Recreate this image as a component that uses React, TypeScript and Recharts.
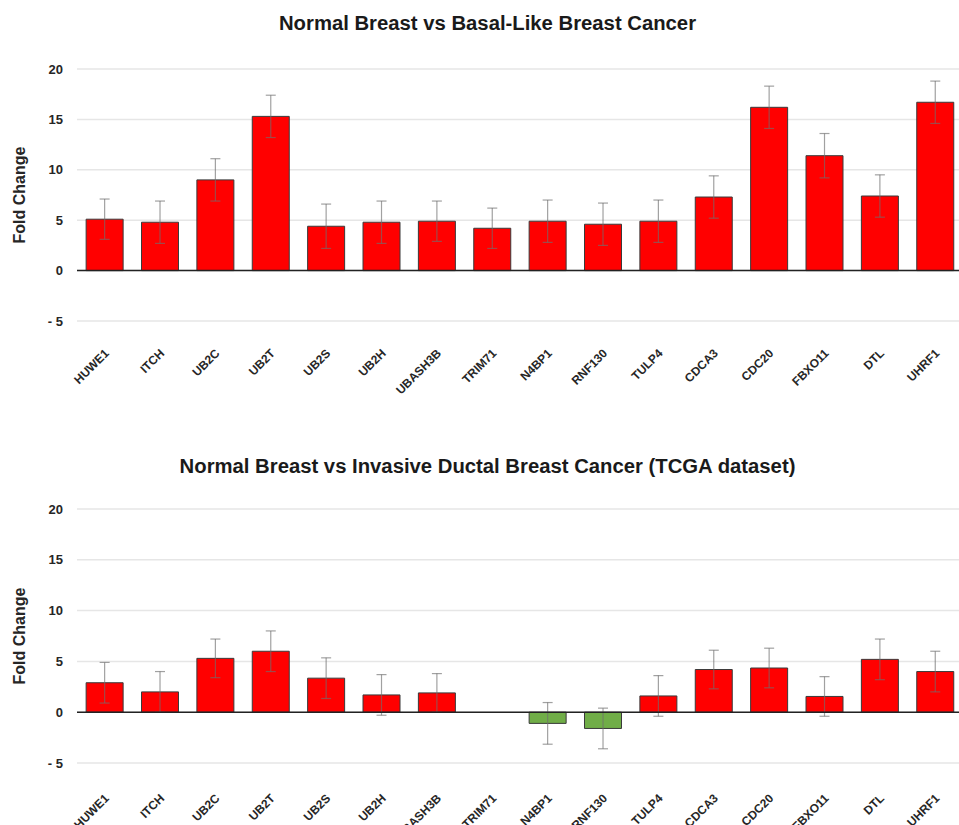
import React from 'react';
import {
  BarChart,
  Bar,
  XAxis,
  YAxis,
  CartesianGrid,
  ReferenceLine,
  ErrorBar,
  Cell,
} from 'recharts';

// Gene categories shared by both panels
const genes = [
  'HUWE1', 'ITCH', 'UB2C', 'UB2T', 'UB2S', 'UB2H', 'UBASH3B', 'TRIM71',
  'N4BP1', 'RNF130', 'TULP4', 'CDCA3', 'CDC20', 'FBXO11', 'DTL', 'UHRF1',
];

// Normal breast vs basal-like breast cancer
const basalFold = [5.1, 4.8, 9.0, 15.3, 4.4, 4.8, 4.9, 4.2, 4.9, 4.6, 4.9, 7.3, 16.2, 11.4, 7.4, 16.7];
const basalErr = [2.0, 2.1, 2.1, 2.1, 2.2, 2.1, 2.0, 2.0, 2.1, 2.1, 2.1, 2.1, 2.1, 2.2, 2.1, 2.1];

// Normal breast vs invasive ductal breast cancer (TCGA)
const ductalFold = [2.9, 2.0, 5.3, 6.0, 3.35, 1.7, 1.9, 0, -1.1, -1.6, 1.6, 4.2, 4.35, 1.55, 5.2, 4.0];
const ductalErr = [2.0, 2.0, 1.9, 2.0, 2.0, 2.0, 1.9, 0, 2.05, 2.0, 2.0, 1.9, 1.95, 1.95, 2.0, 2.0];

const yTicks = [-5, 0, 5, 10, 15, 20];

const titles = [
  'Normal Breast vs Basal-Like Breast Cancer',
  'Normal Breast vs Invasive Ductal Breast Cancer (TCGA dataset)',
];

const FONT = "Arial, 'Liberation Sans', Helvetica, sans-serif";
const UP = '#ff0000';
const DOWN = '#70ad47';

type Row = { gene: string; value: number; err: number };

const toRows = (vals: number[], errs: number[]): Row[] =>
  genes.map((gene, i) => ({ gene, value: vals[i], err: errs[i] }));

const basalRows = toRows(basalFold, basalErr);
const ductalRows = toRows(ductalFold, ductalErr);

const makeTick = (dy: number) => (props: any) => {
  const { x, y, payload } = props;
  return (
    <text
      transform={`translate(${x + 5},${y + dy}) rotate(-45)`}
      textAnchor="end"
      fontFamily={FONT}
      fontSize={12}
      fontWeight="bold"
      fill="#262626"
    >
      {payload.value}
    </text>
  );
};

const yLabel = (props: any) => {
  const vb = props.viewBox || {};
  const cx = 19;
  const cy = (vb.y ?? 0) + (vb.height ?? 0) / 2;
  return (
    <text
      x={cx}
      y={cy}
      transform={`rotate(-90, ${cx}, ${cy})`}
      textAnchor="middle"
      dominantBaseline="central"
      fontFamily={FONT}
      fontSize={16}
      fontWeight="bold"
      fill="#262626"
    >
      Fold Change
    </text>
  );
};

type PanelProps = {
  title: string;
  rows: Row[];
  top: number;
  height: number;
  plotTop: number;
  plotHeight: number;
  titleBaseline: number;
  labelDy: number;
};

function Panel({ title, rows, top, height, plotTop, plotHeight, titleBaseline, labelDy }: PanelProps) {
  const xAxisHeight = height - plotTop - plotHeight;
  return (
    <div style={{ position: 'absolute', left: 0, top, width: 963, height }}>
      <div
        style={{
          position: 'absolute',
          left: 0,
          width: 975,
          top: titleBaseline - 18,
          textAlign: 'center',
          fontFamily: FONT,
          fontWeight: 'bold',
          fontSize: 20.3,
          lineHeight: 'normal',
          color: '#1a1a1a',
          whiteSpace: 'nowrap',
        }}
      >
        {title}
      </div>
      <BarChart
        width={963}
        height={height}
        data={rows}
        margin={{ top: plotTop, right: 0, bottom: 0, left: 0 }}
        barCategoryGap="16.5%"
      >
        <CartesianGrid vertical={false} stroke="#e6e6e6" strokeWidth={1.5} />
        <XAxis
          dataKey="gene"
          height={xAxisHeight}
          axisLine={false}
          tickLine={false}
          tickSize={0}
          tickMargin={0}
          interval={0}
          tick={makeTick(labelDy)}
        />
        <YAxis
          width={77}
          domain={[-5, 20]}
          ticks={yTicks}
          allowDataOverflow
          axisLine={false}
          tickLine={false}
          tickSize={0}
          tickMargin={14}
          tickFormatter={(v: number) => (v < 0 ? `- ${Math.abs(v)}` : `${v}`)}
          tick={{ fontFamily: FONT, fontSize: 13, fontWeight: 'bold', fill: '#262626' }}
          label={{ content: yLabel }}
        />
        <Bar dataKey="value" stroke="#3a3a3a" strokeWidth={1} isAnimationActive={false}>
          {rows.map((r, i) => (
            <Cell key={i} fill={r.value < 0 ? DOWN : UP} />
          ))}
          <ErrorBar
            dataKey="err"
            direction="y"
            width={5}
            stroke="#6f6f6f"
            strokeOpacity={0.65}
            strokeWidth={1.2}
            isAnimationActive={false}
          />
        </Bar>
        <ReferenceLine y={0} stroke="#222" strokeWidth={1.5} />
      </BarChart>
    </div>
  );
}

export default function App() {
  return (
    <div
      style={{
        position: 'absolute',
        left: 0,
        top: 0,
        width: 959,
        height: 825,
        overflow: 'hidden',
        background: '#fff',
      }}
    >
      <Panel
        title={titles[0]}
        rows={basalRows}
        top={0}
        height={400}
        plotTop={69}
        plotHeight={252}
        titleBaseline={30}
        labelDy={33}
      />
      <Panel
        title={titles[1]}
        rows={ductalRows}
        top={440}
        height={385}
        plotTop={69}
        plotHeight={254}
        titleBaseline={33}
        labelDy={36}
      />
    </div>
  );
}
